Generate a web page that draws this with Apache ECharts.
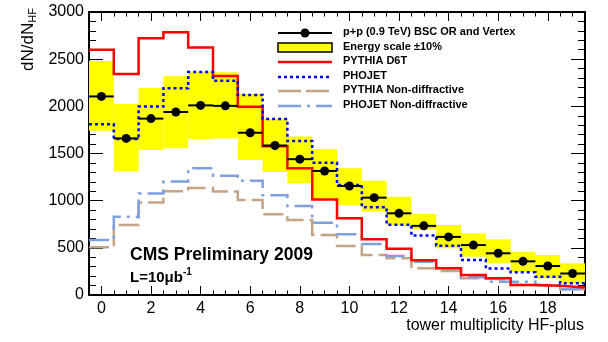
<!DOCTYPE html>
<html>
<head>
<meta charset="utf-8">
<script src="https://cdn.jsdelivr.net/npm/echarts@6/dist/echarts.min.js"></script>
<style>
  html, body { margin: 0; padding: 0; background: #fff; }
  #chart { width: 608px; height: 342px; }
</style>
</head>
<body>
<div id="chart"></div>
<script>
  // bin centres (tower multiplicity)
  var bins = [0, 1, 2, 3, 4, 5, 6, 7, 8, 9, 10, 11, 12, 13, 14, 15, 16, 17, 18, 19];

  // data: p+p (0.9 TeV) BSC OR and Vertex
  var dataVals = [2105, 1660, 1870, 1940, 2010, 2005, 1720, 1585, 1440, 1315, 1156, 1032, 866, 733, 616, 529, 442, 357, 307, 228];
  // energy scale +-10% band
  var bandHigh = [2480, 2025, 2195, 2320, 2360, 2360, 2130, 1865, 1680, 1545, 1343, 1212, 1042, 860, 742, 654, 590, 459, 424, 336];
  var bandLow = [1742, 1308, 1538, 1556, 1655, 1660, 1430, 1305, 1185, 1007, 954, 883, 742, 697, 495, 406, 336, 247, 177, 124];

  // models
  var pythiaD6T = [2600, 2344, 2722, 2786, 2623, 2322, 1995, 1577, 1343, 1012, 813, 590, 490, 368, 283, 212, 177, 106, 99, 80];
  var phojet = [1810, 1654, 1997, 2192, 2365, 2270, 2121, 1866, 1633, 1403, 1166, 930, 745, 630, 521, 370, 280, 240, 194, 124];
  var pythiaND = [506, 742, 981, 1100, 1135, 1096, 1007, 856, 795, 636, 520, 424, 390, 283, 254, 177, 159, 106, 95, 60];
  var phojetND = [583, 830, 1075, 1202, 1343, 1265, 1212, 1057, 944, 767, 644, 540, 414, 353, 283, 187, 141, 141, 106, 60];

  // tick labels
  var xMajorTicks = [0, 2, 4, 6, 8, 10, 12, 14, 16, 18];

  var xMinorTicks = [];
  for (var t = -0.5; t <= 19.5; t += 0.5) xMinorTicks.push(t);

  var FONT = 'Liberation Sans, Arial, Helvetica, sans-serif';

  function histEdges(vals) {
    var pts = [];
    for (var i = 0; i < bins.length; i++) {
      pts.push([bins[i] - 0.5, vals[i]]);
      pts.push([bins[i] + 0.5, vals[i]]);
    }
    return pts;
  }

  function stepSeries(name, vals, color, dash, z) {
    return {
      name: name,
      type: 'line',
      data: histEdges(vals),
      showSymbol: false,
      symbol: 'none',
      z: z,
      lineStyle: { color: color, width: 2.5, type: dash, cap: 'butt', join: 'miter' }
    };
  }

  function xAxisDef(pos, ticks, len, showLine, showLabel) {
    return {
      type: 'value', min: -0.5, max: 19.5, position: pos,
      axisLine: { show: showLine, onZero: false, lineStyle: { color: '#000', width: 2 } },
      axisTick: { show: true, inside: true, length: len, customValues: ticks, lineStyle: { color: '#000', width: 1 } },
      axisLabel: { show: showLabel, customValues: xMajorTicks, margin: 6, fontSize: 16, color: '#000', fontFamily: FONT },
      splitLine: { show: false }
    };
  }

  function yAxisDef(pos, showLabel) {
    return {
      type: 'value', min: 0, max: 3000, interval: 500, position: pos,
      axisLine: { show: true, onZero: false, lineStyle: { color: '#000', width: 2 } },
      axisTick: { show: true, inside: true, length: 14, lineStyle: { color: '#000', width: 1 } },
      minorTick: { show: true, splitNumber: 5, length: 7, lineStyle: { color: '#000', width: 1 } },
      axisLabel: {
        show: showLabel, margin: 5, fontSize: 16, color: '#000', fontFamily: FONT,
        formatter: function (v) { return String(v); }
      },
      splitLine: { show: false },
      minorSplitLine: { show: false }
    };
  }

  var chart = echarts.init(document.getElementById('chart'), null, { renderer: 'canvas' });

  var legendRows = [
    { y: 33, text: 'p+p (0.9 TeV) BSC OR and Vertex' },
    { y: 48, text: 'Energy scale \u00b110%' },
    { y: 62, text: 'PYTHIA D6T' },
    { y: 77, text: 'PHOJET' },
    { y: 91, text: 'PYTHIA Non-diffractive' },
    { y: 106, text: 'PHOJET Non-diffractive' }
  ];

  var graphics = [];
  legendRows.forEach(function (r) {
    graphics.push({
      type: 'text', left: 343, top: r.y - 7,
      style: { text: r.text, font: 'bold 11px ' + FONT, fill: '#000' }
    });
  });
  graphics.push(
    { type: 'line', shape: { x1: 278, y1: 33, x2: 332, y2: 33 }, style: { stroke: '#000', lineWidth: 2 } },
    { type: 'circle', shape: { cx: 305, cy: 33, r: 4.5 }, style: { fill: '#000' } },
    { type: 'rect', shape: { x: 278, y: 43, width: 54, height: 9 }, style: { fill: '#ffff00', stroke: '#000', lineWidth: 1.5 } },
    { type: 'line', shape: { x1: 278, y1: 62, x2: 332, y2: 62 }, style: { stroke: '#ff0000', lineWidth: 2.5 } },
    { type: 'line', shape: { x1: 278, y1: 77, x2: 332, y2: 77 }, style: { stroke: '#0000ff', lineWidth: 2.5, lineDash: [3, 3] } },
    { type: 'line', shape: { x1: 278, y1: 91, x2: 332, y2: 91 }, style: { stroke: '#c4a484', lineWidth: 2.5, lineDash: [23, 5] } },
    { type: 'line', shape: { x1: 278, y1: 106, x2: 332, y2: 106 }, style: { stroke: '#7f9fdf', lineWidth: 2.5, lineDash: [23, 6, 3, 6] } },
    {
      type: 'text', left: 130, top: 246,
      style: { text: 'CMS Preliminary 2009', font: 'bold 17.5px ' + FONT, fill: '#000' }
    },
    {
      type: 'text', left: 130, top: 267,
      style: {
        text: '{a|L=10\u03bcb}{s|-1}',
        rich: {
          a: { font: 'bold 15px ' + FONT, fill: '#000', verticalAlign: 'bottom' },
          s: { font: 'bold 10px ' + FONT, fill: '#000', verticalAlign: 'top', padding: [0, 0, 8, 0] }
        }
      }
    },
    {
      type: 'text', right: 24, top: 318,
      style: { text: 'tower multiplicity HF-plus', font: '16px ' + FONT, fill: '#000' }
    },
    {
      type: 'text', x: 19, y: 71, rotation: Math.PI / 2,
      style: {
        text: '{a|dN/dN}{s|HF}',
        rich: {
          a: { font: '17px ' + FONT, fill: '#000' },
          s: { font: '11px ' + FONT, fill: '#000', padding: [8, 0, 0, 0] }
        }
      }
    }
  );

  var option = {
    animation: false,
    backgroundColor: '#fff',
    grid: { left: 89, right: 23, top: 12, bottom: 47 },
    xAxis: [
      xAxisDef('bottom', xMajorTicks, 9, true, true),
      xAxisDef('bottom', xMinorTicks, 4.5, false, false),
      xAxisDef('top', xMajorTicks, 9, true, false),
      xAxisDef('top', xMinorTicks, 4.5, false, false)
    ],
    yAxis: [yAxisDef('left', true), yAxisDef('right', false)],
    series: [
      {
        name: 'Energy scale',
        type: 'custom',
        z: 1,
        data: bins.map(function (b, i) { return [b, bandLow[i], bandHigh[i]]; }),
        renderItem: function (params, api) {
          var p1 = api.coord([api.value(0) - 0.5, api.value(2)]);
          var p2 = api.coord([api.value(0) + 0.5, api.value(1)]);
          return {
            type: 'rect',
            shape: { x: p1[0], y: p1[1], width: p2[0] - p1[0], height: p2[1] - p1[1] },
            style: { fill: '#ffff00' }
          };
        }
      },
      stepSeries('PYTHIA Non-diffractive', pythiaND, '#c4a484', [20, 6], 2),
      stepSeries('PHOJET Non-diffractive', phojetND, '#7f9fdf', [20, 6, 3, 6], 3),
      stepSeries('PYTHIA D6T', pythiaD6T, '#ff0000', 'solid', 4),
      stepSeries('PHOJET', phojet, '#0000ff', [3, 3], 5),
      {
        name: 'p+p (0.9 TeV) BSC OR and Vertex',
        type: 'custom',
        z: 6,
        data: bins.map(function (b, i) { return [b, dataVals[i]]; }),
        renderItem: function (params, api) {
          var a = api.coord([api.value(0) - 0.5, api.value(1)]);
          var b = api.coord([api.value(0) + 0.5, api.value(1)]);
          var c = api.coord([api.value(0), api.value(1)]);
          return {
            type: 'group',
            children: [
              { type: 'line', shape: { x1: a[0], y1: a[1], x2: b[0], y2: b[1] }, style: { stroke: '#000', lineWidth: 2 } },
              { type: 'circle', shape: { cx: c[0], cy: c[1], r: 4.5 }, style: { fill: '#000' } }
            ]
          };
        }
      }
    ],
    graphic: graphics
  };

  chart.setOption(option);
</script>
</body>
</html>
